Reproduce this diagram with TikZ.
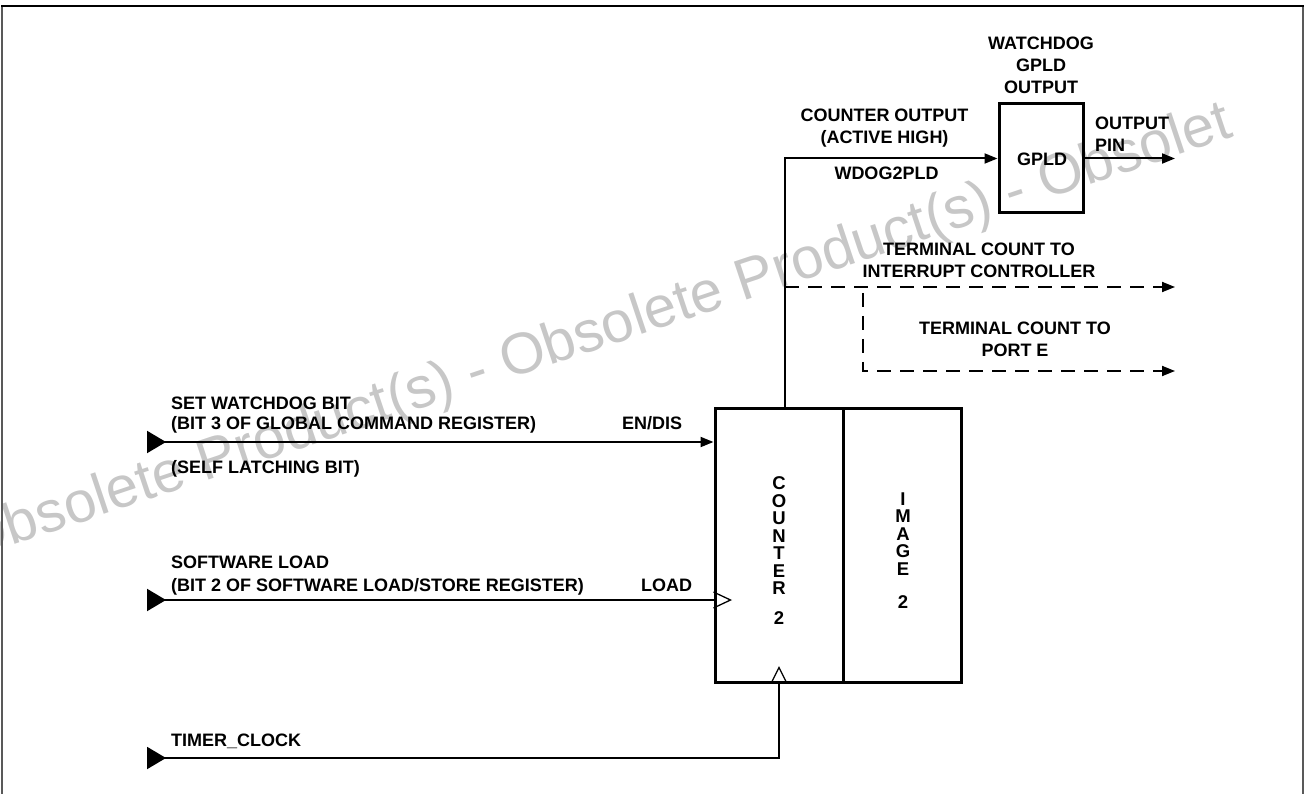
\documentclass[tikz,border=0pt]{standalone}
\usepackage{fontspec}
\setmainfont{Liberation Sans}
\usetikzlibrary{arrows.meta}
\begin{document}
\begin{tikzpicture}[x=1pt,y=-1pt,
  lbl/.style={font=\fontsize{18}{22}\selectfont\bfseries, inner sep=0pt},
  vlbl/.style={font=\fontsize{18.5}{17.5}\selectfont\bfseries, inner sep=0pt, align=center},
  blk/.style={draw, line width=3pt, inner sep=0pt},
  sig/.style={line width=2pt},
  endarr/.style={-{Triangle[length=13pt,width=10pt]}},
  srcarr/.style={{Triangle[reversed,length=19pt,width=22pt]}-},
  srcend/.style={{Triangle[reversed,length=19pt,width=22pt]}-{Triangle[length=13pt,width=10pt]}},
  dsig/.style={line width=1.8pt, dash pattern=on 14pt off 9pt},
  opentri/.style={line width=1.3pt},
  wm/.style={text=black!22, font=\fontsize{58}{58}\selectfont, rotate=18.5, inner sep=0pt}
]
\useasboundingbox (0,0) rectangle (1307,794);
% watermark
\node[wm, anchor=base west] (wmark) at (-31,560) {Obsolete Product(s) - Obsolete Product(s) - Obsolet};
% frame
\draw[line width=2pt, black!65] (2,794) -- (2,6);
\draw[line width=2pt, black!65] (1303,6) -- (1303,794);
\draw[line width=2pt] (1,6) -- (1304,6);

% blocks
\node[blk, minimum width=128, minimum height=274] (cnt) at (779,545) {};
\node[blk, minimum width=118, minimum height=274] (img) at (902,545) {};
\node[blk, minimum width=84, minimum height=109] (gpld) at (1041,158.5) {};
\node[lbl, anchor=base] (gpldt) at (1042,165.5) {GPLD};

\node[vlbl, anchor=north] (cntt) at (779,476.5) {C\\O\\U\\N\\T\\E\\R\\[12.5pt]2};
\node[vlbl, anchor=north] (imgt) at (903,492.5) {I\\M\\A\\G\\E\\[16pt]2};

% coordinates
\coordinate (swin) at (147,442);
\coordinate (ldin) at (147,600);
\coordinate (clkin) at (147,758);
\coordinate (cox) at (785,408);
\coordinate (outpin) at (1175,160);
\coordinate (tcint) at (1175,287);
\coordinate (tcport) at (1175,371);
\coordinate (tcbr) at (863,293);

% inputs
\draw[sig, srcend] (swin) -- (cnt.west |- swin);
\draw[sig, srcarr] (ldin) -- (cnt.west |- ldin);
\draw[sig, srcarr] (clkin) -- (clkin -| cnt.south) -- (cnt.south);
\draw[opentri] (cnt.west |- ldin) ++(0,-8) -- ++(17,8) -- ++(-17,8);
\draw[opentri] (cnt.south) ++(-8,0) -- ++(8,-16) -- ++(8,16);

% outputs
\draw[sig, endarr] (cox) |- (gpld.west);
\draw[sig, endarr] (gpld.east) -- (gpld.east -| outpin);
\draw[dsig, endarr] (cox |- tcint) -- (tcint);
\draw[dsig, endarr] (tcbr) |- (tcport);

% labels
\node[lbl, anchor=base west] (l1) at (171,409.5) {SET WATCHDOG BIT};
\node[lbl, anchor=base west] (l2) at (171,429) {(BIT 3 OF GLOBAL COMMAND REGISTER)};
\node[lbl, anchor=base west] (l3) at (622,429) {EN/DIS};
\node[lbl, anchor=base west] (l4) at (171,473) {(SELF LATCHING BIT)};
\node[lbl, anchor=base west] (l5) at (171,568.5) {SOFTWARE LOAD};
\node[lbl, anchor=base west] (l6) at (171,591.5) {(BIT 2 OF SOFTWARE LOAD/STORE REGISTER)};
\node[lbl, anchor=base west] (l7) at (641,591.5) {LOAD};
\node[lbl, anchor=base west] (l8) at (171,746.5) {TIMER\_CLOCK};
\node[lbl, align=center] (l9) at (1041,65) {WATCHDOG\\GPLD\\OUTPUT};
\node[lbl, align=center] (l10) at (884.5,128) {COUNTER OUTPUT\\(ACTIVE HIGH)};
\node[lbl, anchor=base] (l11) at (886.5,179.5) {WDOG2PLD};
\node[lbl, align=left, anchor=west] (l12) at (1095,134.5) {OUTPUT\\PIN};
\node[lbl, align=center] (l13) at (979,260.5) {TERMINAL COUNT TO\\INTERRUPT CONTROLLER};
\node[lbl, align=center] (l14) at (1015,339.5) {TERMINAL COUNT TO\\PORT E};
\end{tikzpicture}
\end{document}
